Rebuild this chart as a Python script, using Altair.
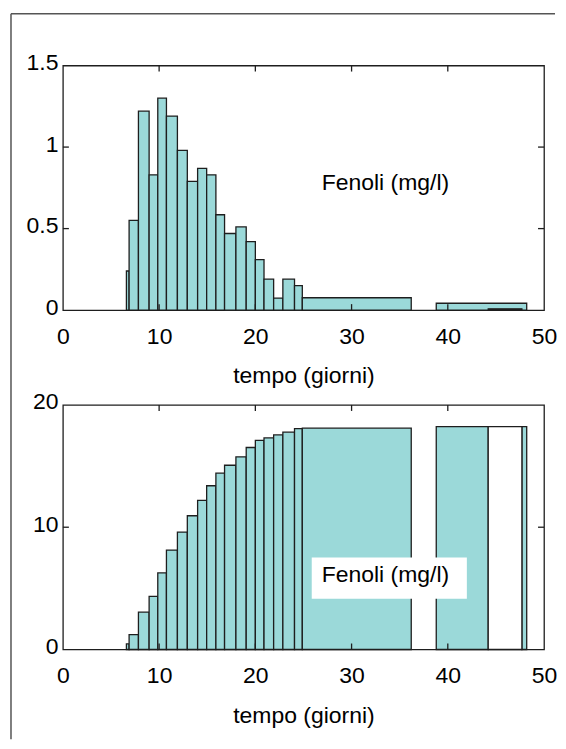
import altair as alt
import pandas as pd

# ---- data ----
# top panel: histogram (mg/l vs tempo)
top_lo = [6.6, 6.88, 7.85, 8.96, 9.86, 10.76, 11.9, 12.93, 14.0, 14.94, 15.9, 16.8,
          17.98, 19.05, 20.0, 20.9, 21.9, 22.86, 24.07, 24.88, 38.8]
top_hi = [6.88, 7.85, 8.96, 9.86, 10.76, 11.9, 12.93, 14.0, 14.94, 15.9, 16.8, 17.98,
          19.05, 20.0, 20.9, 21.9, 22.86, 24.07, 24.88, 36.2, 48.2]
top_val = [0.24, 0.55, 1.22, 0.83, 1.30, 1.19, 0.98, 0.79, 0.87, 0.83, 0.585, 0.47,
           0.51, 0.42, 0.31, 0.19, 0.074, 0.19, 0.15, 0.076, 0.042]
dark_lo = [44.2]
dark_hi = [47.7]
dark_val = [0.008]

# bottom panel: cumulative
cum_lo = [6.6, 6.88, 7.85, 8.96, 9.86, 10.76, 11.9, 12.93, 14.0, 14.94, 15.9, 16.8,
          17.98, 19.05, 20.0, 20.9, 21.9, 22.86, 24.07, 24.88, 38.8, 47.7]
cum_hi = [6.88, 7.85, 8.96, 9.86, 10.76, 11.9, 12.93, 14.0, 14.94, 15.9, 16.8, 17.98,
          19.05, 20.0, 20.9, 21.9, 22.86, 24.07, 24.88, 36.2, 44.2, 48.2]
cum_val = [0.46, 1.22, 3.05, 4.35, 6.26, 8.13, 9.6, 10.94, 12.19, 13.39, 14.42, 15.07,
           15.76, 16.52, 17.1, 17.3, 17.55, 17.77, 18.07, 18.1, 18.23, 18.23]
white_lo = [44.2]
white_hi = [47.7]
white_val = [18.23]

x_ticks = [0, 10, 20, 30, 40, 50]
x_inner_ticks = [10, 20, 30, 40]
top_y_ticks = [0, 0.5, 1, 1.5]
top_y_inner = [0.5, 1]
bot_y_ticks = [0, 10, 20]
bot_y_inner = [10]

label_text = "Fenoli (mg/l)"
x_title = "tempo (giorni)"
top_label_pos = (26.9, 0.78)
bot_label_pos = (26.9, 6.1)
bot_box = (25.86, 41.98, 4.16, 7.53)

FILL = "#9bd9d9"
EDGE = "#1e1e1e"
FONT = "Liberation Sans"
W, H = 482, 245
TICK = 6


def panel(lo, hi, val, extra_lo, extra_hi, extra_val, extra_fill, ydom, yticks, yinner,
          lab_pos, box=None, frame=False):
    xs = alt.Scale(domain=[0, 50], nice=False, zero=False)
    ys = alt.Scale(domain=ydom, nice=False)
    xax = alt.Axis(values=x_ticks, title=x_title, grid=False, ticks=False, domain=False,
                   labelFlush=False, labelPadding=15, labelFontSize=23, titleFontSize=23,
                   labelFont=FONT, titleFont=FONT, titleFontWeight="normal",
                   titlePadding=17, labelColor="black", titleColor="black")
    yax = alt.Axis(values=yticks, title=None, grid=False, ticks=False, domain=False,
                   labelFlush=False, labelPadding=5, labelFontSize=23, labelFont=FONT,
                   format="~g", labelOffset=-3, labelColor="black")
    df = pd.DataFrame({"lo": lo, "hi": hi, "v": val})
    bars = alt.Chart(df).mark_rect(fill=FILL, stroke=EDGE, strokeWidth=1.3).encode(
        x=alt.X("lo:Q", scale=xs, axis=xax), x2="hi:Q",
        y=alt.Y("v:Q", scale=ys, axis=yax), y2=alt.datum(0))
    dfe = pd.DataFrame({"lo": extra_lo, "hi": extra_hi, "v": extra_val})
    extra = alt.Chart(dfe).mark_rect(fill=extra_fill, stroke=EDGE, strokeWidth=1.3).encode(
        x=alt.X("lo:Q", scale=xs), x2="hi:Q", y=alt.Y("v:Q", scale=ys), y2=alt.datum(0))
    layers = [bars, extra]
    if box is not None:
        dfb = pd.DataFrame({"a": [box[0]], "b": [box[1]], "c": [box[2]], "d": [box[3]]})
        layers.append(alt.Chart(dfb).mark_rect(fill="white").encode(
            x=alt.X("a:Q", scale=xs), x2="b:Q", y=alt.Y("c:Q", scale=ys), y2="d:Q"))
    dft = pd.DataFrame({"x": [lab_pos[0]], "y": [lab_pos[1]], "t": [label_text]})
    layers.append(alt.Chart(dft).mark_text(align="left", baseline="middle", fontSize=23,
                                           font=FONT, color="black").encode(
        x=alt.X("x:Q", scale=xs), y=alt.Y("y:Q", scale=ys), text="t:N"))
    dxt = pd.DataFrame({"t": x_inner_ticks})
    for y0, y1 in [(0, TICK), (H - TICK, H)]:
        layers.append(alt.Chart(dxt).mark_rule(color=EDGE, strokeWidth=1.3).encode(
            x=alt.X("t:Q", scale=xs), y=alt.value(y0), y2=alt.value(y1)))
    dyt = pd.DataFrame({"t": yinner})
    for x0, x1 in [(0, TICK), (W - TICK, W)]:
        layers.append(alt.Chart(dyt).mark_rule(color=EDGE, strokeWidth=1.3).encode(
            y=alt.Y("t:Q", scale=ys), x=alt.value(x0), x2=alt.value(x1)))
    if frame:
        dff = pd.DataFrame({"k": [0]})
        layers.append(alt.Chart(dff).mark_rule(color="#555", strokeWidth=1.5).encode(
            x=alt.value(-52), x2=alt.value(493), y=alt.value(-52), y2=alt.value(-52)))
        layers.append(alt.Chart(dff).mark_rule(color="#555", strokeWidth=1.5).encode(
            x=alt.value(-52), x2=alt.value(-52), y=alt.value(-52), y2=alt.value(675)))
    return alt.layer(*layers).properties(width=W, height=H)


top = panel(top_lo, top_hi, top_val, dark_lo, dark_hi, dark_val, "#111",
            [0, 1.5], top_y_ticks, top_y_inner, top_label_pos, frame=True)
bot = panel(cum_lo, cum_hi, cum_val, white_lo, white_hi, white_val, "white",
            [0, 20], bot_y_ticks, bot_y_inner, bot_label_pos, box=bot_box)

chart = alt.vconcat(top, bot, spacing=95, bounds="flush").properties(
    padding={"left": 1, "top": 3, "right": 0, "bottom": 0}, background="white"
).configure_view(stroke=EDGE, strokeWidth=1.3)

chart.save("out.html", embed_options={"renderer": "svg", "actions": False})
